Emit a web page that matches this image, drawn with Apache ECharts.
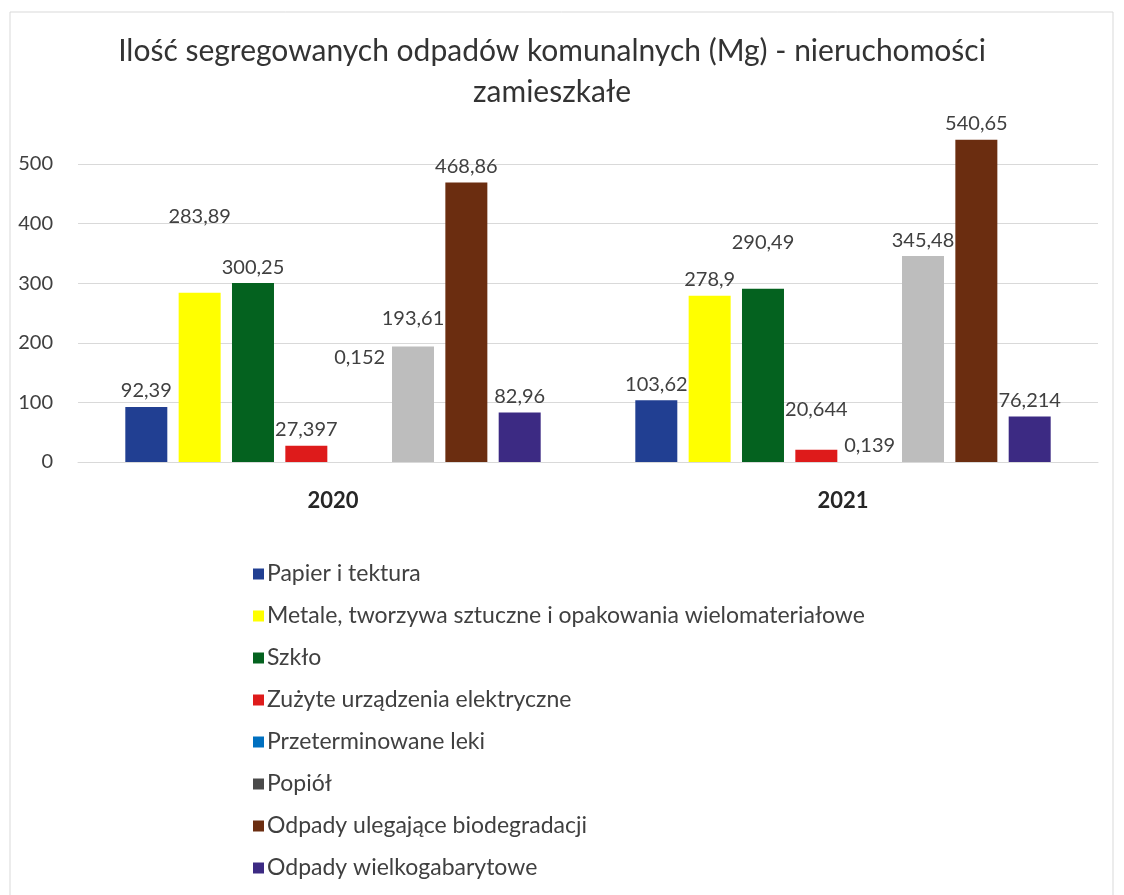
<!DOCTYPE html>
<html>
<head>
<meta charset="utf-8">
<script src="https://cdn.jsdelivr.net/npm/echarts@6/dist/echarts.min.js"></script>
<style>
  html, body { margin: 0; padding: 0; background: #fff; }
  #chart { width: 1124px; height: 895px; }
</style>
</head>
<body>
<div id="chart"></div>
<script>
const years = ['2020', '2021']
const seriesNames = [
  'Papier i tektura',
  'Metale, tworzywa sztuczne i opakowania wielomateriałowe',
  'Szkło',
  'Zużyte urządzenia elektryczne',
  'Przeterminowane leki',
  'Popiół',
  'Odpady ulegające biodegradacji',
  'Odpady wielkogabarytowe'
]
const papier = [92.39, 103.62]
const metale = [283.89, 278.9]
const szklo = [300.25, 290.49]
const zuzyte = [27.397, 20.644]
const leki = [0.152, 0.139]
const popiol = [193.61, 345.48]
const bio = [468.86, 540.65]
const wielko = [82.96, 76.214]
const yTicks = [0, 100, 200, 300, 400, 500]

const seriesValues = [papier, metale, szklo, zuzyte, leki, popiol, bio, wielko]
const colors = ['#213f92', '#ffff00', '#04621f', '#de1b1b', '#0070c0', '#bdbdbd', '#6b2d10', '#3c2a83']
// label shifts as placed in the original (per series, per year)
const labelShift = [
  [0, 0], [-60, 0], [0, -30], [0, -24], [-88, 0], [-12, 0], [0, 0], [0, 0]
]

const fmt = v => String(v).replace('.', ',')

const series = seriesValues.map((vals, i) => ({
  name: seriesNames[i],
  type: 'bar',
  barWidth: 42,
  barGap: '27%',
  clip: false,
  itemStyle: { color: colors[i] },
  data: vals.map((v, j) => ({
    value: v,
    label: { offset: [0, labelShift[i][j]] }
  })),
  label: {
    show: true,
    position: 'top',
    distance: 6,
    color: '#404040',
    fontSize: 20,
    fontFamily: 'Lato',
    formatter: p => fmt(p.value)
  }
}))

const chart = echarts.init(document.getElementById('chart'))
chart.setOption({
  animation: false,
  textStyle: { fontFamily: 'Lato' },
  title: {
    text: 'Ilość segregowanych odpadów komunalnych (Mg) - nieruchomości\nzamieszkałe',
    left: 547,
    top: 26,
    textAlign: 'center',
    textStyle: {
      color: '#333',
      fontSize: 30,
      fontWeight: 'normal',
      fontFamily: 'Lato',
      lineHeight: 41
    }
  },
  graphic: [{
    type: 'rect',
    shape: { x: 10, y: 12, width: 1103, height: 900 },
    style: { fill: 'none', stroke: '#d9d9d9', lineWidth: 1 },
    silent: true
  }],
  grid: { left: 78, right: 26, top: 164, bottom: 433 },
  legend: {
    orient: 'vertical',
    left: 248,
    top: 557,
    icon: 'rect',
    itemWidth: 11,
    itemHeight: 11,
    itemGap: 18,
    textStyle: { color: '#404040', fontSize: 23, fontFamily: 'Lato', lineHeight: 24, padding: [0, 0, 0, -2] },
    data: seriesNames.map((n, i) => i === 5 ? { name: n, itemStyle: { color: '#4a4a4a' } } : n)
  },
  xAxis: {
    type: 'category',
    data: years,
    axisLine: { lineStyle: { color: '#d9d9d9' } },
    axisTick: { show: false },
    axisLabel: { color: '#262626', fontSize: 22, fontWeight: 'bold', fontFamily: 'Lato', margin: 28 }
  },
  yAxis: {
    type: 'value',
    min: yTicks[0],
    max: yTicks[yTicks.length - 1],
    interval: 100,
    axisLine: { show: false },
    axisTick: { show: false },
    splitLine: { lineStyle: { color: '#d9d9d9' } },
    axisLabel: { color: '#404040', fontSize: 20, fontFamily: 'Lato', margin: 25 }
  },
  series: series
})
</script>
</body>
</html>
